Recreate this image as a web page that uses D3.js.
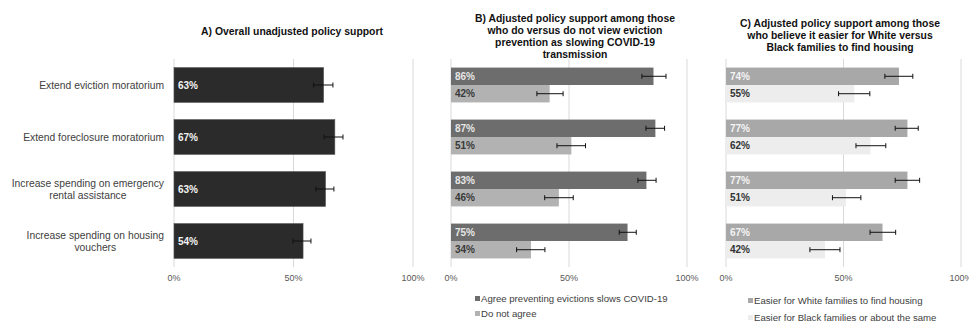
<!DOCTYPE html>
<html>
<head>
<meta charset="utf-8">
<script src="https://cdn.jsdelivr.net/npm/d3@7"></script>
<style>
body { margin: 0; background: #fff; }
svg text { font-family: "Liberation Sans", Arial, sans-serif; }
</style>
</head>
<body>
<div id="chart"></div>
<script>
// policies (rows, shared by the three panels)
var categories = ["Extend eviction moratorium", "Extend foreclosure moratorium",
  "Increase spending on emergency rental assistance", "Increase spending on housing vouchers"];
var ticks = [0, 50, 100];

// A) overall support, with 95% CI
var overall   = [62.6, 67.3, 63.4, 54.0];
var overallLo = [58.4, 62.8, 59.4, 49.8];
var overallHi = [66.5, 70.7, 66.9, 57.3];

// B) by COVID-19 belief
var covidSeries = ["Agree preventing evictions slows COVID-19", "Do not agree"];
var covidAgree   = [85.8, 86.6, 82.8, 74.8];
var covidAgreeLo = [80.9, 82.6, 79.2, 71.3];
var covidAgreeHi = [91.1, 90.5, 86.9, 78.5];
var covidNot     = [41.8, 51.0, 45.7, 33.9];
var covidNotLo   = [36.4, 44.9, 39.7, 27.8];
var covidNotHi   = [47.5, 57.0, 51.8, 39.8];

// C) by belief about housing discrimination
var raceSeries = ["Easier for White families to find housing", "Easier for Black families or about the same"];
var raceWhite   = [73.6, 77.2, 77.2, 66.6];
var raceWhiteLo = [67.6, 72.0, 72.0, 61.3];
var raceWhiteHi = [79.5, 81.8, 82.4, 72.2];
var raceBlack   = [54.6, 61.5, 51.1, 42.1];
var raceBlackLo = [47.9, 55.3, 45.3, 35.7];
var raceBlackHi = [61.2, 68.0, 57.4, 48.5];

var svg = d3.select("#chart").append("svg")
  .attr("width", 969)
  .attr("height", 323);

var panels = [
  { title: ["A) Overall unadjusted policy support"], titleX: 292, titleY: 35, x0: 174, x1: 413,
    legX: 0, legY: 0, legStep: 0,
    series: [{ name: null, vals: overall, lo: overallLo, hi: overallHi, fill: "#2b2b2b", stroke: "#555", text: "#f2f2f2" }] },
  { title: ["B) Adjusted policy support among those", "who do versus do not view eviction",
            "prevention as slowing COVID-19", "transmission"], titleX: 575, titleY: 22, x0: 451, x1: 687,
    legX: 475, legY: 302, legStep: 15,
    series: [{ name: covidSeries[0], vals: covidAgree, lo: covidAgreeLo, hi: covidAgreeHi, fill: "#6d6d6d", text: "#e6e6e6" },
             { name: covidSeries[1], vals: covidNot, lo: covidNotLo, hi: covidNotHi, fill: "#b2b2b2", text: "#3a3a3a" }] },
  { title: ["C) Adjusted policy support among those", "who believe it easier for White versus",
            "Black families to find housing"], titleX: 840, titleY: 27, x0: 726, x1: 961,
    legX: 748, legY: 304, legStep: 17,
    series: [{ name: raceSeries[0], vals: raceWhite, lo: raceWhiteLo, hi: raceWhiteHi, fill: "#a8a8a8", text: "#f4f4f4" },
             { name: raceSeries[1], vals: raceBlack, lo: raceBlackLo, hi: raceBlackHi, fill: "#ededed", text: "#333" }] }
];

var y = d3.scaleBand()
  .domain(categories)
  .range([59, 267])
  .paddingInner(0.33)
  .paddingOuter(0.165);

panels.forEach(function(p){
  var x = d3.scaleLinear().domain([0, 100]).range([p.x0, p.x1]);
  var g = svg.append("g");

  // gridlines
  g.selectAll("line.grid")
    .data(ticks)
    .enter()
    .append("line")
    .attr("x1", function(d){ return x(d); })
    .attr("x2", function(d){ return x(d); })
    .attr("y1", 59)
    .attr("y2", 267)
    .attr("stroke", "#d9d9d9")
    .attr("stroke-width", 1);

  g.selectAll("text.tick")
    .data(ticks)
    .enter()
    .append("text")
    .attr("x", function(d){ return x(d); })
    .attr("y", 281)
    .attr("text-anchor", "middle")
    .attr("font-size", 9)
    .attr("fill", "#595959")
    .text(function(d){ return d + "%"; });

  // title
  g.selectAll("text.title")
    .data(p.title)
    .enter()
    .append("text")
    .attr("x", p.titleX)
    .attr("y", function(d, i){ return p.titleY + i * 12; })
    .attr("text-anchor", "middle")
    .attr("font-size", 10.4)
    .attr("font-weight", "bold")
    .attr("fill", "#111")
    .text(function(d){ return d; });

  var sub = d3.scaleBand()
    .domain(d3.range(p.series.length))
    .range([0, y.bandwidth()]);

  p.series.forEach(function(s, si){
    var rows = categories.map(function(c, i){
      return { cat: c, v: s.vals[i], lo: s.lo[i], hi: s.hi[i] };
    });
    var yy = function(d){ return y(d.cat) + sub(si); };
    var bh = sub.bandwidth();

    g.selectAll("rect.s" + si)
      .data(rows)
      .enter()
      .append("rect")
      .attr("x", x(0))
      .attr("y", yy)
      .attr("width", function(d){ return x(d.v) - x(0); })
      .attr("height", bh)
      .attr("fill", s.fill)
      .attr("stroke", s.stroke || "none")
      .attr("stroke-width", 0.6);

    g.selectAll("text.v" + si)
      .data(rows)
      .enter()
      .append("text")
      .attr("x", x(0) + 4)
      .attr("y", function(d){ return yy(d) + bh / 2 + 3.5; })
      .attr("font-size", 10)
      .attr("font-weight", "bold")
      .attr("fill", s.text)
      .text(function(d){ return Math.round(d.v) + "%"; });

    // error bars
    var eb = g.selectAll("g.e" + si)
      .data(rows)
      .enter()
      .append("g")
      .attr("stroke", "#111")
      .attr("stroke-width", 1);
    eb.append("line")
      .attr("x1", function(d){ return x(d.lo); })
      .attr("x2", function(d){ return x(d.hi); })
      .attr("y1", function(d){ return yy(d) + bh / 2; })
      .attr("y2", function(d){ return yy(d) + bh / 2; });
    ["lo", "hi"].forEach(function(k){
      eb.append("line")
        .attr("x1", function(d){ return x(d[k]); })
        .attr("x2", function(d){ return x(d[k]); })
        .attr("y1", function(d){ return yy(d) + bh / 2 - 2.5; })
        .attr("y2", function(d){ return yy(d) + bh / 2 + 2.5; });
    });
  });

  // legend
  var named = p.series.filter(function(s){ return s.name; });
  if (named.length) {
    var leg = g.selectAll("g.leg")
      .data(named)
      .enter()
      .append("g")
      .attr("transform", function(d, i){ return "translate(" + p.legX + "," + (p.legY + i * p.legStep) + ")"; });
    leg.append("rect")
      .attr("x", 0)
      .attr("y", -6)
      .attr("width", 5)
      .attr("height", 5)
      .attr("fill", function(d){ return d.fill; });
    leg.append("text")
      .attr("x", 6)
      .attr("y", 0)
      .attr("font-size", 9.6)
      .attr("fill", "#404040")
      .text(function(d){ return d.name; });
  }
});

// category labels, wrapped, block right-aligned and lines centred
var catSize = 10.3;
var catG = svg.append("g");
categories.forEach(function(c){
  var words = c.split(" ");
  var lines = [];
  var cur = "";
  var probe = catG.append("text").attr("font-size", catSize);
  words.forEach(function(w){
    var t = cur ? cur + " " + w : w;
    probe.text(t);
    if (probe.node().getComputedTextLength() > 160 && cur) {
      lines.push(cur);
      cur = w;
    } else {
      cur = t;
    }
  });
  lines.push(cur);
  var widths = lines.map(function(l){ probe.text(l); return probe.node().getComputedTextLength(); });
  probe.remove();
  var maxW = d3.max(widths);
  var cx = 164 - maxW / 2;
  var cy = y(c) + y.bandwidth() / 2;
  catG.selectAll(null)
    .data(lines)
    .enter()
    .append("text")
    .attr("x", cx)
    .attr("y", function(d, i){ return cy + 4 + (i - (lines.length - 1) / 2) * 12; })
    .attr("text-anchor", "middle")
    .attr("font-size", catSize)
    .attr("fill", "#404040")
    .text(function(d){ return d; });
});
</script>
</body>
</html>
